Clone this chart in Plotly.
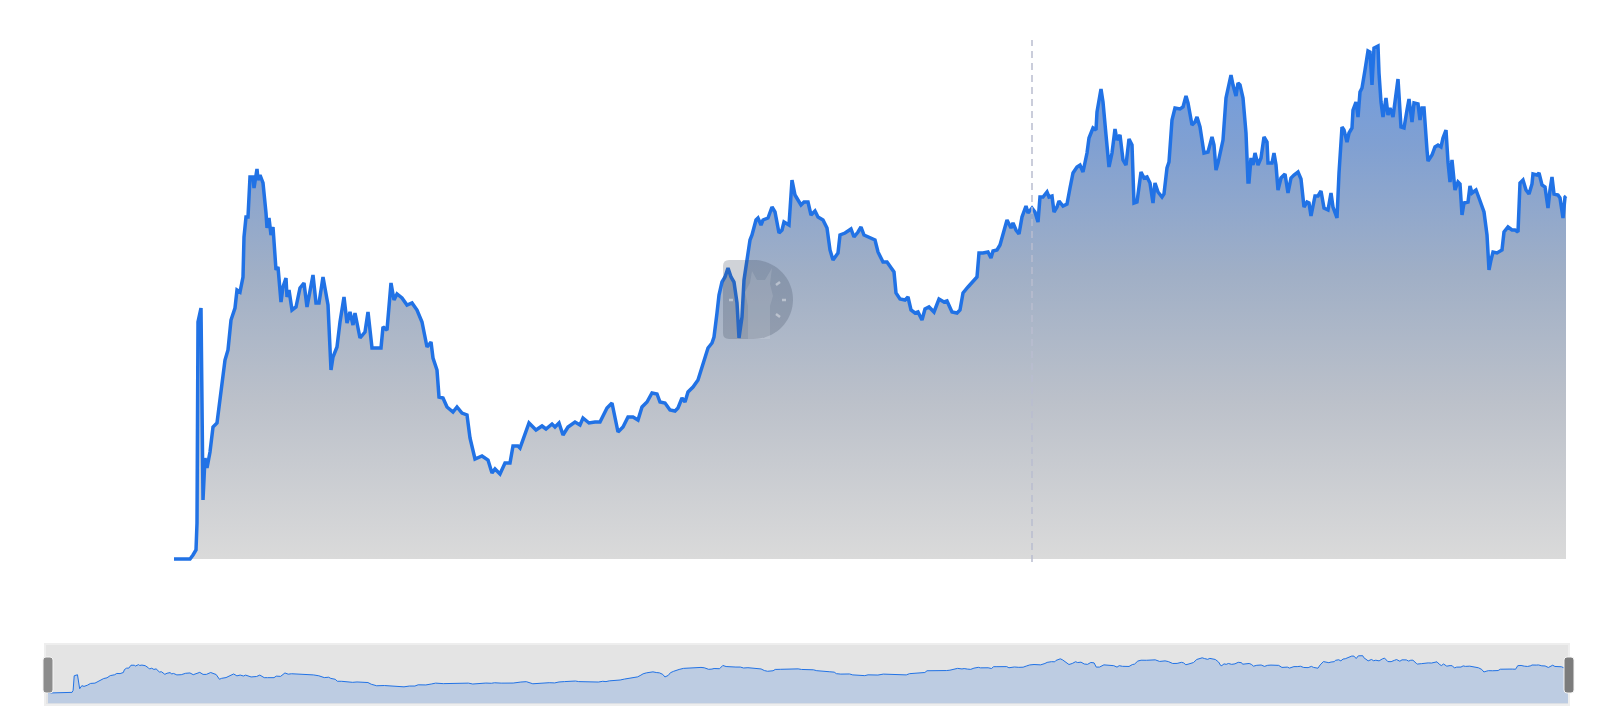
import pandas as pd
import plotly.graph_objects as go

W, H = 1606, 720
BLUE = "#2172e5"

# daily series: day offset from start, value (arbitrary TVL units)
start = pd.Timestamp("2020-09-01")
days = [
    0, 16, 19, 22, 23, 24, 27, 28, 29, 31, 33, 36, 39, 43, 48, 51, 54, 57, 61, 63,
    66, 69, 70, 72, 74, 76, 79, 80, 83, 84, 86, 89, 92, 93, 95, 97, 99, 102, 104, 107,
    109, 112, 113, 115, 118, 122, 126, 130, 133, 136, 139, 142, 145, 149, 153, 154, 157, 159, 163, 166,
    170, 173, 176, 179, 181, 186, 191, 194, 198, 201, 207, 209, 213, 217, 220, 223, 228, 233, 238, 243,
    248, 253, 257, 259, 263, 265, 269, 273, 279, 283, 288, 293, 296, 301, 308, 314, 318, 321, 326, 331,
    336, 339, 344, 346, 351, 355, 362, 368, 372, 378, 381, 385, 389, 394, 401, 406, 409, 415, 421, 426,
    433, 438, 444, 449, 454, 459, 464, 468, 473, 478, 483, 486, 491, 496, 501, 504, 508, 511, 514, 519,
    524, 528, 531, 534, 538, 540, 543, 545, 548, 551, 554, 557, 560, 563, 565, 568, 570, 573, 576, 578,
    582, 584, 587, 589, 594, 598, 601, 605, 608, 610, 615, 618, 621, 624, 627, 630, 634, 637, 641, 644,
    649, 653, 656, 659, 664, 666, 671, 677, 680, 684, 687, 690, 694, 701, 704, 709, 713, 716, 720, 722,
    726, 731, 734, 737, 741, 744, 748, 751, 755, 760, 765, 770, 773, 778, 783, 786, 789, 794, 799, 803,
    805, 809, 814, 817, 819, 823, 826, 829, 833, 837, 839, 842, 845, 848, 852, 854, 858, 861, 864, 866,
    869, 873, 875, 878, 880, 883, 885, 889, 893, 896, 899, 903, 906, 909, 913, 915, 919, 922, 923, 927,
    929, 932, 935, 938, 941, 943, 946, 949, 952, 955, 958, 960, 963, 967, 970, 973, 976, 979, 981, 984,
    988, 990, 993, 995, 998, 1001, 1006, 1009, 1012, 1014, 1018, 1021, 1023, 1026, 1030, 1034, 1038, 1040, 1042, 1044,
    1048, 1049, 1052, 1054, 1057, 1059, 1062, 1064, 1066, 1069, 1072, 1074, 1075, 1077, 1079, 1081, 1084, 1087, 1090, 1093,
    1094, 1098, 1100, 1102, 1104, 1107, 1111, 1114, 1117, 1120, 1124, 1127, 1130, 1133, 1135, 1137, 1141, 1144, 1147, 1150,
    1154, 1157, 1159, 1163, 1165, 1168, 1170, 1173, 1175, 1178, 1179, 1182, 1184, 1186, 1188, 1191, 1194, 1196, 1198, 1200,
    1204, 1205, 1207, 1209, 1212, 1214, 1216, 1219, 1222, 1224, 1227, 1230, 1233, 1235, 1238, 1240, 1244, 1246, 1248, 1250,
    1253, 1254, 1258, 1261, 1264, 1267, 1269, 1272, 1274, 1276, 1278, 1281, 1284, 1286, 1288, 1290, 1294, 1296, 1298, 1302,
    1305, 1308, 1310, 1313, 1315, 1317, 1319, 1323, 1328, 1330, 1334, 1338, 1341, 1344, 1346, 1349, 1352, 1355, 1358, 1359,
    1363, 1365, 1368, 1371, 1374, 1376, 1378, 1380, 1384, 1386, 1389, 1391, 1392,
]
tvl = [
    0, 0, 4, 9, 36, 237, 251, 119, 59, 101, 91, 107, 132, 136, 172, 199, 209, 239, 251, 269,
    267, 282, 322, 342, 342, 382, 382, 371, 390, 379, 384, 376, 346, 331, 341, 324, 332, 289, 292, 257,
    272, 281, 262, 269, 249, 252, 271, 276, 252, 269, 284, 256, 256, 282, 257, 254, 189, 202, 212, 237,
    262, 236, 247, 234, 246, 221, 227, 247, 211, 211, 211, 232, 229, 276, 259, 265, 261, 254, 256, 249,
    237, 212, 217, 201, 189, 162, 161, 152, 147, 152, 146, 144, 121, 100, 103, 99, 86, 90, 85, 96,
    96, 113, 113, 111, 124, 136, 129, 133, 130, 135, 132, 136, 124, 132, 137, 134, 141, 136, 137, 137,
    151, 156, 127, 132, 142, 142, 139, 152, 157, 166, 165, 157, 156, 149, 148, 151, 161, 157, 167, 172,
    179, 192, 199, 211, 216, 222, 246, 264, 277, 282, 291, 282, 277, 256, 221, 242, 279, 299, 319, 324,
    339, 341, 334, 339, 341, 352, 347, 326, 329, 337, 334, 379, 364, 359, 354, 357, 357, 344, 348, 342,
    339, 331, 309, 299, 306, 324, 326, 330, 322, 327, 332, 324, 322, 319, 307, 297, 297, 292, 287, 266,
    260, 259, 262, 249, 246, 247, 239, 250, 252, 247, 260, 257, 258, 247, 246, 249, 266, 272, 278, 282,
    306, 306, 307, 301, 308, 309, 314, 324, 339, 331, 336, 329, 325, 342, 353, 346, 351, 347, 337, 362,
    362, 367, 362, 363, 347, 352, 358, 353, 355, 371, 386, 392, 394, 387, 406, 421, 431, 429, 447, 470,
    457, 424, 392, 406, 430, 419, 424, 399, 394, 420, 414, 356, 357, 387, 381, 382, 376, 356, 376, 367,
    362, 365, 391, 397, 439, 451, 450, 452, 463, 456, 434, 437, 442, 432, 406, 407, 422, 414, 389, 396,
    416, 419, 461, 472, 484, 474, 463, 476, 474, 461, 426, 377, 377, 401, 394, 406, 394, 401, 422, 417,
    396, 396, 406, 394, 369, 381, 385, 366, 381, 384, 387, 380, 352, 357, 356, 343, 363, 363, 368, 351,
    349, 366, 352, 341, 386, 432, 429, 417, 426, 431, 449, 457, 442, 467, 471, 489, 508, 507, 474, 511,
    513, 486, 457, 442, 461, 444, 451, 442, 469, 480, 432, 431, 449, 460, 437, 456, 455, 439, 451, 451,
    409, 398, 404, 412, 414, 412, 421, 429, 397, 377, 399, 369, 377, 375, 344, 356, 357, 373, 366, 369,
    361, 351, 347, 324, 289, 299, 307, 306, 309, 327, 332, 329, 329, 327, 376, 379, 369, 365, 375, 385,
    384, 386, 374, 372, 351, 369, 382, 365, 364, 361, 341, 362, 363,
]
hover_day = 858

dates = start + pd.to_timedelta(days, unit="D")
hover_date = start + pd.Timedelta(days=hover_day)
x_lo = start + pd.Timedelta(days=-4)
x_hi = start + pd.Timedelta(days=1396)
nav_floor = -144


def px(x):
    return x / W


def py(y):
    return 1 - y / H


def pt(x, y):
    return f"{px(x):.5f},{py(y):.5f}"


fig = go.Figure()

# main area chart
fig.add_trace(go.Scatter(
    x=dates, y=tvl, mode="lines",
    line=dict(color=BLUE, width=3.5),
    fill="tozeroy",
    fillgradient=dict(
        type="vertical", start=0, stop=519,
        colorscale=[[0, "#dadada"], [0.3, "#bcc1ca"], [0.55, "#a0afc6"],
                    [0.8, "#80a0d2"], [1, "#6c9be2"]],
    ),
    hoverinfo="skip",
))

# navigator
fig.add_trace(go.Scatter(
    x=[dates[0], dates[-1]], y=[nav_floor, nav_floor], mode="lines",
    line=dict(width=0), xaxis="x2", yaxis="y2", hoverinfo="skip",
))
fig.add_trace(go.Scatter(
    x=dates, y=tvl, mode="lines", line=dict(color=BLUE, width=1),
    fill="tonexty", fillcolor="#bdcce2",
    xaxis="x2", yaxis="y2", hoverinfo="skip",
))

shapes = []
# navigator background
shapes.append(dict(type="rect", xref="paper", yref="paper",
                   x0=px(45), x1=px(1569), y0=py(705), y1=py(644),
                   fillcolor="#e4e4e4", line=dict(color="#eeeeee", width=2),
                   layer="below"))
# navigator handles
for x0, col in [(43, "#8c8c8c"), (1564, "#7c7c7c")]:
    x1, y0, y1, r = x0 + 10, 657, 693, 3
    shapes.append(dict(
        type="path", xref="paper", yref="paper",
        path=(f"M{pt(x0 + r, y0)} L{pt(x1 - r, y0)} Q{pt(x1, y0)} {pt(x1, y0 + r)} "
              f"L{pt(x1, y1 - r)} Q{pt(x1, y1)} {pt(x1 - r, y1)} L{pt(x0 + r, y1)} "
              f"Q{pt(x0, y1)} {pt(x0, y1 - r)} L{pt(x0, y0 + r)} Q{pt(x0, y0)} {pt(x0 + r, y0)} Z"),
        fillcolor=col, line=dict(color="#f4f4f4", width=1), layer="above",
    ))

# hover crosshair
shapes.append(dict(type="line", xref="x", yref="y domain",
                   x0=hover_date, x1=hover_date, y0=0, y1=1,
                   line=dict(color="#b9bdd0", width=1.5, dash="7px,5px"),
                   layer="above"))

# watermark (llama badge)
cx, cy, r = 753.5, 299.5, 39.5
k = 0.5523 * r
shapes.append(dict(
    type="path", xref="paper", yref="paper",
    path=(f"M{pt(729, 260)} L{pt(cx, 260)} C{pt(cx + k, 260)} {pt(793, cy - k)} {pt(793, cy)} "
          f"C{pt(793, cy + k)} {pt(cx + k, 339)} {pt(cx, 339)} L{pt(729, 339)} "
          f"Q{pt(723, 339)} {pt(723, 333)} L{pt(723, 266)} Q{pt(723, 260)} {pt(729, 260)} Z"),
    fillcolor="rgba(60,70,90,0.24)", line=dict(width=0), layer="above",
))
shapes.append(dict(
    type="path", xref="paper", yref="paper",
    path=(f"M{pt(748, 339)} L{pt(748, 306)} L{pt(745, 292)} L{pt(750, 283)} L{pt(752, 271)} "
          f"L{pt(757, 280)} L{pt(765, 280)} L{pt(772, 268)} L{pt(770, 284)} L{pt(773, 296)} "
          f"L{pt(770, 306)} L{pt(770, 339)} Z"),
    fillcolor="rgba(255,255,255,0.12)", line=dict(width=0), layer="above",
))
for (xa, ya, xb, yb) in [(729, 300, 733, 300), (776, 285, 780, 282),
                         (782, 300, 786, 300), (776, 314, 780, 317)]:
    shapes.append(dict(type="line", xref="paper", yref="paper",
                       x0=px(xa), y0=py(ya), x1=px(xb), y1=py(yb),
                       line=dict(color="rgba(255,255,255,0.4)", width=2.5),
                       layer="above"))

hidden = dict(visible=False, showgrid=False, zeroline=False, fixedrange=True)
fig.update_layout(
    width=W, height=H,
    margin=dict(l=0, r=0, t=0, b=0),
    paper_bgcolor="white", plot_bgcolor="rgba(0,0,0,0)",
    showlegend=False,
    xaxis=dict(domain=[px(170), px(1570)], range=[x_lo, x_hi], anchor="y", **hidden),
    yaxis=dict(domain=[py(562), py(40)], range=[-3, 519], anchor="x", **hidden),
    xaxis2=dict(domain=[px(48), px(1568)], range=[dates[0], dates[-1]], anchor="y2", **hidden),
    yaxis2=dict(domain=[py(703.5), py(645)], range=[nav_floor, 660], anchor="x2", **hidden),
    shapes=shapes,
)

fig.write_html("out.html", config={"displayModeBar": False},
               post_script="document.body.style.margin='0px';")
